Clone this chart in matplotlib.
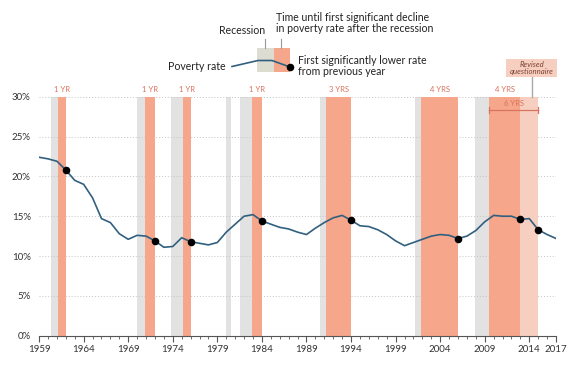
import matplotlib.pyplot as plt

plt.rcParams['font.family'] = ['Lato', 'DejaVu Sans']

# poverty rate, 1959-2017 (%)
years = list(range(1959, 2018))
rate = [22.4, 22.2, 21.9, 20.8, 19.5, 19.0, 17.3, 14.7, 14.2, 12.8,
        12.1, 12.6, 12.5, 11.9, 11.1, 11.2, 12.3, 11.8, 11.6, 11.4,
        11.7, 13.0, 14.0, 15.0, 15.2, 14.4, 14.0, 13.6, 13.4, 13.0,
        12.7, 13.5, 14.2, 14.8, 15.1, 14.5, 13.8, 13.7, 13.3, 12.7,
        11.9, 11.3, 11.7, 12.1, 12.5, 12.7, 12.6, 12.2, 12.5, 13.2,
        14.3, 15.1, 15.0, 15.0, 14.6, 14.7, 13.3, 12.7, 12.2]

# recessions (start, end in fractional years)
rec_start = [1960.3, 1969.95, 1973.85, 1980.0, 1981.5, 1990.5, 2001.2, 2007.95]
rec_end = [1961.15, 1970.85, 1975.2, 1980.5, 1982.9, 1991.2, 2001.9, 2009.5]

# time until first significant decline after recession
dec_start = [1961.15, 1970.85, 1975.2, 1982.9, 1991.2, 2001.9, 2009.5]
dec_end = [1962, 1972, 1976, 1984, 1994, 2006, 2013]
dec_label = ['1 YR', '1 YR', '1 YR', '1 YR', '3 YRS', '4 YRS', '4 YRS']

# revised questionnaire period
rev_start, rev_end = 2013, 2015
rev_label = '6 YRS'

dot_years = [1962, 1972, 1976, 1984, 1994, 2006, 2013, 2015]
dot_vals = [rate[years.index(y)] for y in dot_years]

xticks = [1959, 1964, 1969, 1974, 1979, 1984, 1989, 1994, 1999, 2004, 2009, 2014, 2017]
yticks = [0, 5, 10, 15, 20, 25, 30]

gray = '#e2e2e2'
orange = '#f5a68b'
light = '#f7cfc1'
lbl = '#d8735c'
blue = '#31607f'
txt = '#333333'

fig = plt.figure(figsize=(5.75, 3.73), dpi=100)
ax = fig.add_axes([0.068, 0.1, 0.899, 0.6407])

for s, e in zip(rec_start, rec_end):
    ax.axvspan(s, e, ymin=0, ymax=1, color=gray, lw=0, zorder=0)
for s, e, t in zip(dec_start, dec_end, dec_label):
    ax.axvspan(s, e, color=orange, lw=0, zorder=1)
    ax.text((s + e) / 2, 30.5, t, ha='center', va='bottom', fontsize=5.5, color=lbl)
ax.axvspan(rev_start, rev_end, color=light, lw=0, zorder=1)

# 6 year bracket
ax.plot([dec_start[-1], rev_end], [28.3, 28.3], color=lbl, lw=0.9, zorder=3)
for xx in (dec_start[-1], rev_end):
    ax.plot([xx, xx], [27.9, 28.7], color=lbl, lw=0.9, zorder=3)
ax.text((dec_start[-1] + rev_end) / 2, 28.7, rev_label, ha='center', va='bottom',
        fontsize=5.5, color=lbl)

for y in yticks[1:]:
    ax.axhline(y, color='#c4c4c4', lw=0.7, ls=(0, (1, 2)), zorder=0.5)

ax.plot(years, rate, color=blue, lw=1.2, zorder=4)
ax.scatter(dot_years, dot_vals, s=30, color='black', zorder=5, lw=0)

ax.set_xlim(1959, 2017)
ax.set_ylim(0, 30)
ax.set_xticks(xticks)
ax.set_xticklabels([str(x) for x in xticks], fontsize=7, color=txt)
ax.set_xticks(range(1959, 2018), minor=True)
ax.set_yticks(yticks)
ax.set_yticklabels([f'{y}%' for y in yticks], fontsize=7, color=txt)
ax.tick_params(axis='x', which='major', length=4.5, width=0.8, color='#555555', pad=2)
ax.tick_params(axis='x', which='minor', length=2.5, width=0.6, color='#555555')
ax.tick_params(axis='y', length=0, pad=6)
for sp in ['top', 'right', 'left']:
    ax.spines[sp].set_visible(False)
ax.spines['bottom'].set_color('#555555')
ax.spines['bottom'].set_linewidth(0.8)

# revised questionnaire note (pixel coords overlay)
ov = fig.add_axes([0, 0, 1, 1], facecolor='none')
ov.set_xlim(0, 575)
ov.set_ylim(373, 0)
ov.axis('off')
ov.add_patch(plt.Rectangle((506, 59), 51, 18, color=light, lw=0))
ov.text(531.5, 68, 'Revised\nquestionnaire', ha='center', va='center', fontsize=5.6,
        style='italic', color='#7a4232', linespacing=1.1)
ov.plot([532, 532], [77, 97], color='#aaaaaa', lw=1)

# legend
ov.add_patch(plt.Rectangle((257, 48), 16.5, 24, color='#dcdcd0', lw=0))
ov.add_patch(plt.Rectangle((273.5, 48), 16, 24, color=orange, lw=0))
ov.plot([232, 258, 272, 290], [66.5, 60.5, 60.5, 67], color=blue, lw=1.2)
ov.scatter([290], [67], s=30, color='black', lw=0, zorder=5)
ov.plot([265, 265], [39, 48], color='#999999', lw=0.8)
ov.plot([281, 281], [39, 48], color='#999999', lw=0.8)
ov.text(242, 31, 'Recession', ha='center', va='center', fontsize=7.6, color='#222222')
ov.text(276, 23, 'Time until first significant decline\nin poverty rate after the recession',
        ha='left', va='center', fontsize=7.6, color='#222222', linespacing=1.05)
ov.text(226, 66, 'Poverty rate', ha='right', va='center', fontsize=7.6, color='#222222')
ov.text(298, 66, 'First significantly lower rate\nfrom previous year',
        ha='left', va='center', fontsize=7.6, color='#222222', linespacing=1.05)

fig.savefig('out.png', dpi=100, facecolor='white')
